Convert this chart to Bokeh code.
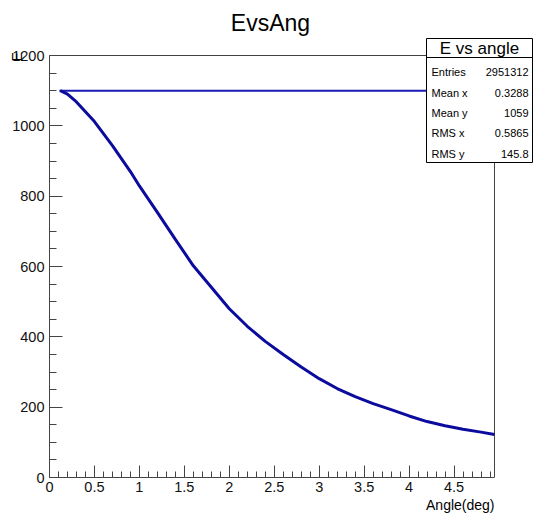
import math
from bokeh.plotting import figure
from bokeh.models import Range1d, SingleIntervalTicker, CustomJSTickFormatter, ColumnDataSource, Title
from bokeh.core.properties import value
from bokeh.embed import file_html
from bokeh.resources import INLINE

# ---- data ----
angle = [0.12, 0.2, 0.3, 0.5, 0.7, 0.9, 1.0, 1.2, 1.4, 1.6, 1.8, 2.0, 2.2, 2.4, 2.6,
         2.8, 3.0, 3.2, 3.4, 3.6, 3.8, 4.0, 4.2, 4.4, 4.6, 4.8, 4.95]
energy = [1100, 1090, 1068, 1012, 944, 870, 829, 754, 677, 602, 541, 480, 430, 387, 350,
          314, 281, 253, 230, 210, 193, 175, 159, 147, 137, 129, 122]
flat_angle = [0.11, 4.95]
flat_energy = [1100, 1100]

stat_names = ["Entries", "Mean x", "Mean y", "RMS x", "RMS y"]
stat_values = ["2951312", "0.3288", "1059", "0.5865", "145.8"]

title_text = "EvsAng"
stats_title = "E vs angle"
x_title = "Angle(deg)"
y_title = "E"
X_MAX = 4.95
Y_MAX = 1200

# ---- layout (pixels) ----
W, H = 536, 515
FL, FR_AX, FT_AX, FB = 49, 494, 55, 477      # axes frame
CANVAS_RIGHT, CANVAS_TOP = 533, 37           # plotting area incl. stats box
px_per_x = (FR_AX - FL) / X_MAX
px_per_y = (FB - FT_AX) / Y_MAX
x_end = (CANVAS_RIGHT - FL) / px_per_x
y_end = (FB - CANVAS_TOP) / px_per_y

def dx(px):
    return (px - FL) / px_per_x

def dy(py):
    return (FB - py) / px_per_y

FONT = value("Liberation Sans")

p = figure(width=W, height=H, x_range=Range1d(0, x_end), y_range=Range1d(0, y_end),
           min_border_left=FL, min_border_right=W - CANVAS_RIGHT,
           min_border_top=CANVAS_TOP, min_border_bottom=H - FB,
           toolbar_location=None, output_backend="svg")
p.outline_line_color = None
p.grid.visible = False
p.background_fill_color = "white"
p.border_fill_color = "white"

TITLE_SIZE = 23
p.title.text = title_text
p.title.align = "left"
p.title.offset = 270 - FL - 3.446 * TITLE_SIZE / 2
p.title.text_font = "Liberation Sans"
p.title.text_font_size = f"{TITLE_SIZE}px"
p.title.text_font_style = "normal"
p.title.text_color = "black"
p.title.standoff = 3

fmt = CustomJSTickFormatter(code="return String(Math.round(tick*10)/10);")

xa = p.xaxis[0]
xa.ticker = SingleIntervalTicker(interval=0.5, num_minor_ticks=5)
xa.bounds = (0, X_MAX)
xa.formatter = fmt
ya = p.yaxis[0]
ya.ticker = SingleIntervalTicker(interval=200, num_minor_ticks=4)
ya.bounds = (0, Y_MAX)
ya.formatter = fmt
for ax, maj, mnr in ((xa, 12, 6), (ya, 13, 7)):
    ax.major_tick_in = maj
    ax.major_tick_out = 0
    ax.minor_tick_in = mnr
    ax.minor_tick_out = 0
    ax.axis_line_color = "#444444"
    ax.major_tick_line_color = "#444444"
    ax.minor_tick_line_color = "#444444"
    ax.major_label_text_font = "Liberation Sans"
    ax.major_label_text_font_size = "14.5px"
    ax.major_label_text_color = "#111111"
    ax.major_label_standoff = 5
    ax.axis_label_text_font = "Liberation Sans"
    ax.axis_label_text_font_size = "14px"
    ax.axis_label_text_font_style = "normal"
    ax.axis_label_text_color = "black"

xa.major_label_standoff = 4
# y title: end-aligned at the top, pushed down with trailing no-break spaces
ya.axis_label = y_title + "\u00a0" * 10
ya.axis_label_align = "end"
ya.axis_label_standoff = -16

# x title, right-aligned under the axis end
p.add_layout(Title(text=x_title, align="right", offset=(CANVAS_RIGHT - FR_AX),
                   text_font="Liberation Sans", text_font_size="14px",
                   text_font_style="normal", text_color="black", standoff=0), "below")

# frame top/right
p.line([0, X_MAX], [Y_MAX, Y_MAX], line_color="#444444", line_width=1)
p.line([X_MAX, X_MAX], [0, Y_MAX], line_color="#444444", line_width=1)

# data
p.line(flat_angle, flat_energy, line_color="#1a1ab4", line_width=2)
p.line(angle, energy, line_color="#0b0b9e", line_width=3)

# stats box
p.quad(left=dx(426), right=dx(532), top=dy(38), bottom=dy(162),
       fill_color="white", line_color="black", line_width=1)
p.line([dx(426), dx(532)], [dy(57), dy(57)], line_color="black", line_width=1)
p.text(x=[dx(479)], y=[dy(47.5)], text=[stats_title], text_font=FONT,
       text_font_size="17px", text_align="center", text_baseline="middle", text_color="black")
rows_y = [dy(v) for v in (71, 92, 112, 132, 153)]
src = ColumnDataSource(dict(xn=[dx(431)] * 5, xv=[dx(528)] * 5, y=rows_y,
                            n=stat_names, v=stat_values))
p.text(x="xn", y="y", text="n", source=src, text_font=FONT, text_font_size="11px",
       text_align="left", text_baseline="middle", text_color="black")
p.text(x="xv", y="y", text="v", source=src, text_font=FONT, text_font_size="11px",
       text_align="right", text_baseline="middle", text_color="black")

open("out.html", "w").write(file_html(p, INLINE))
